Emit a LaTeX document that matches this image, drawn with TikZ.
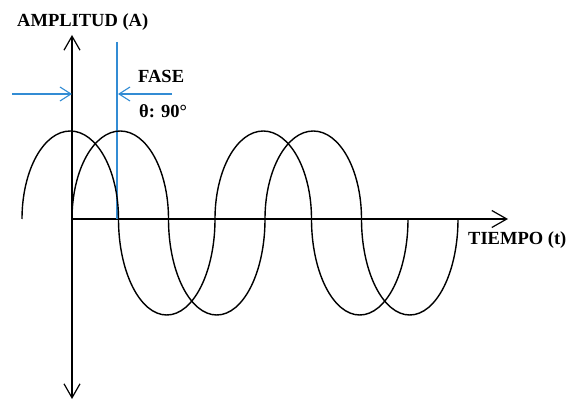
\documentclass[tikz,border=0pt]{standalone}
\usepackage{fontspec}
\setmainfont{Liberation Serif}
\usetikzlibrary{arrows.meta}
\definecolor{phaseblue}{RGB}{50,140,212}
\tikzset{
  axisline/.style={line width=1.2pt, black},
  wave/.style={line width=1.4pt, black},
  blueline/.style={line width=1.1pt, phaseblue},
  lbl/.style={font=\bfseries\fontsize{18.5}{22}\selectfont, inner sep=0pt, anchor=base west},
  hump/.style={start angle=180, end angle=360, x radius=48.25, y radius=88},
  dip/.style={start angle=180, end angle=0, x radius=48.25, y radius=96}
}
\begin{document}
\begin{tikzpicture}[x=1pt,y=-1pt]
\useasboundingbox (0,0) rectangle (571,401);
% coordinates
\coordinate (origin) at (72,219);
\coordinate (ytop) at (72,35);
\coordinate (ybot) at (72,399);
\coordinate (xend) at (508,219);
\coordinate (phasetop) at (117,42);
\coordinate (phasebot) at (117,219);
\coordinate (la) at (12,94);
\coordinate (lb) at (72,94);
\coordinate (ra) at (172,94);
\coordinate (rb) at (118,94);
\coordinate (w1) at (22,219);
\coordinate (w2) at (72,219);
% axes
\draw[axisline, {Straight Barb[length=14pt,width=16pt]}-{Straight Barb[length=14pt,width=16pt]}] (ybot) -- (ytop);
\draw[axisline, -{Straight Barb[length=15pt,width=17pt]}] (origin) -- (xend);
% phase marks
\draw[blueline] (phasetop) -- (phasebot);
\draw[blueline, -{Straight Barb[length=11pt,width=14pt]}] (la) -- (lb);
\draw[blueline, -{Straight Barb[length=11pt,width=14pt]}] (ra) -- (rb);
% waves
\draw[wave] (w1) arc[hump] arc[dip] arc[hump] arc[dip];
\draw[wave] (w2) arc[hump] arc[dip] arc[hump] arc[dip];
% labels
\node[lbl] (amp) at (17,27) {AMPLITUD (A)};
\node[lbl] (fase) at (138,83) {FASE};
\node[lbl] (theta) at (139,118) {θ: 90°};
\node[lbl] (tiempo) at (468,245) {TIEMPO (t)};
\end{tikzpicture}
\end{document}
